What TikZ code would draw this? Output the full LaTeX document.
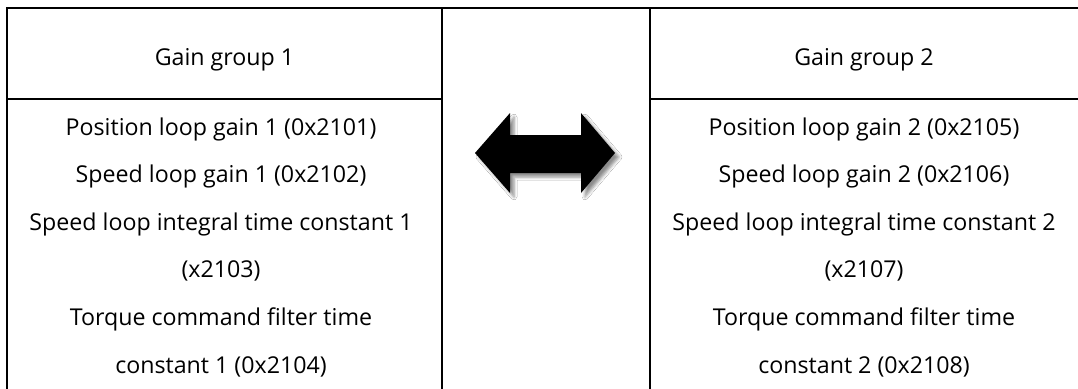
\documentclass[tikz,border=0pt]{standalone}
\usepackage{fontspec}
\setmainfont{Open Sans}
\usetikzlibrary{shadows.blur}
\begin{document}
\begin{tikzpicture}[x=1pt,y=-1pt,
  txt/.style={anchor=base,inner sep=0pt,font=\fontsize{23.2}{28}\selectfont},
  rule/.style={line width=2pt,line cap=rect},
  bigarrow/.style={fill=black,blur shadow={shadow xshift=4pt,shadow yshift=-4pt,shadow blur radius=3pt,shadow opacity=45}}]
\useasboundingbox (0,0) rectangle (1078,388);
\fill[white] (0,0) rectangle (1078,388);
% table rules
\coordinate (tl) at (7,8);
\coordinate (tr) at (1078,8);
\coordinate (bl) at (7,388);
\coordinate (m1t) at (442,8);
\coordinate (m1b) at (442,388);
\coordinate (m2t) at (650,8);
\coordinate (m2b) at (650,388);
\coordinate (h1l) at (7,99);
\coordinate (h1r) at (442,99);
\coordinate (h2l) at (650,99);
\coordinate (h2r) at (1078,99);
\draw[rule] (bl) -- (tl) -- (tr);
\draw[rule] (m1t) -- (m1b);
\draw[rule] (m2t) -- (m2b);
\draw[rule] (h1l) -- (h1r);
\draw[rule] (h2l) -- (h2r);
% headers
\node[txt] (h1) at (224.5,65) {Gain group 1};
\node[txt] (h2) at (864,65) {Gain group 2};
% left column
\node[txt] (l1) at (221,135) {Position loop gain 1 (0x2101)};
\node[txt] (l2) at (221,182.6) {Speed loop gain 1 (0x2102)};
\node[txt] (l3) at (221,230.2) {Speed loop integral time constant 1};
\node[txt] (l4) at (221,277.8) {(x2103)};
\node[txt] (l5) at (221,325.4) {Torque command filter time};
\node[txt] (l6) at (221,373) {constant 1 (0x2104)};
% right column
\node[txt] (r1) at (864,135) {Position loop gain 2 (0x2105)};
\node[txt] (r2) at (864,182.6) {Speed loop gain 2 (0x2106)};
\node[txt] (r3) at (864,230.2) {Speed loop integral time constant 2};
\node[txt] (r4) at (864,277.8) {(x2107)};
\node[txt] (r5) at (864,325.4) {Torque command filter time};
\node[txt] (r6) at (864,373) {constant 2 (0x2108)};
% double arrow
\fill[bigarrow] (475,153) -- (510,113) -- (510,135) -- (581,135) -- (581,113)
  -- (615,153) -- (581,193) -- (581,173) -- (510,173) -- (510,193) -- cycle;
\end{tikzpicture}
\end{document}
